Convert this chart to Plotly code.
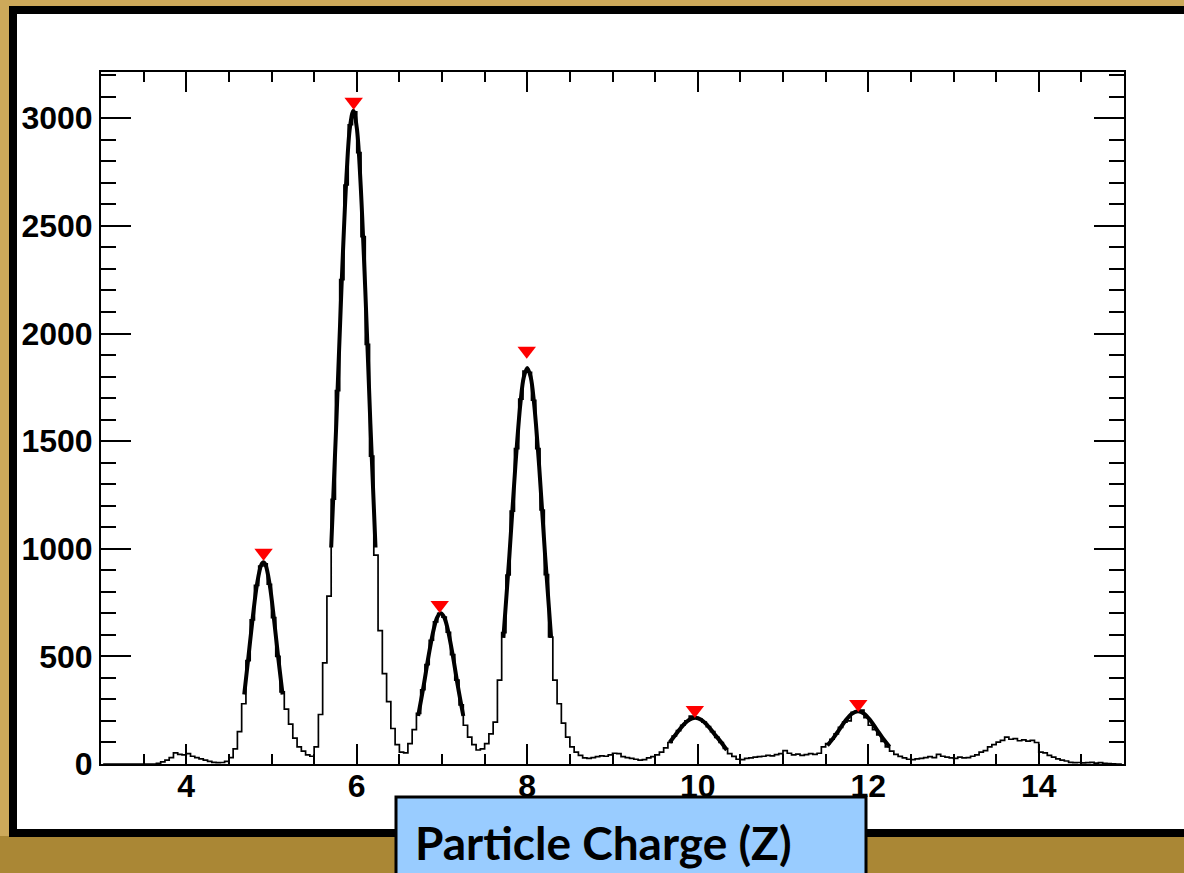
import plotly.graph_objects as go

# Histogram binning of the reconstructed charge
z_lo, z_hi, n_bins = 3.0, 15.0, 240

# Entries per bin (bin width 0.05)
counts = [
    0, 0, 0, 0, 0, 0, 0, 0, 0, 0,
    0, 0, 0, 3, 10, 18, 30, 52, 45, 42,
    48, 36, 30, 24, 18, 12, 8, 6, 7, 12,
    30, 70, 150, 280, 480, 670, 830, 920, 930, 835,
    680, 500, 335, 255, 185, 120, 80, 60, 42, 36,
    80, 230, 470, 780, 1230, 1735, 2250, 2690, 2970, 3030,
    2840, 2450, 1950, 1430, 970, 620, 420, 290, 165, 90,
    55, 52, 95, 160, 235, 345, 462, 575, 660, 700,
    682, 612, 508, 390, 275, 180, 125, 90, 65, 70,
    95, 140, 195, 390, 610, 878, 1175, 1465, 1695, 1825,
    1820, 1690, 1465, 1180, 880, 590, 390, 280, 190, 125,
    80, 55, 40, 28, 26, 30, 34, 38, 36, 42,
    50, 48, 34, 30, 26, 22, 18, 20, 28, 34,
    42, 55, 75, 100, 130, 155, 180, 200, 222, 215,
    208, 195, 174, 150, 124, 100, 72, 48, 35, 22,
    20, 26, 28, 32, 34, 36, 40, 38, 44, 48,
    62, 50, 42, 46, 40, 44, 48, 45, 50, 80,
    95, 115, 140, 170, 195, 200, 240, 245, 250, 215,
    180, 160, 135, 105, 80, 60, 45, 35, 28, 22,
    20, 24, 26, 30, 34, 30, 45, 36, 32, 28,
    26, 32, 28, 30, 36, 42, 55, 62, 80, 90,
    102, 110, 125, 115, 118, 108, 112, 106, 110, 100,
    55, 52, 40, 32, 24, 18, 14, 8, 6, 7,
    5, 6, 8, 4, 6, 3, 2, 1, 0, 0,
]

# Gaussian fits drawn over the main peaks (Z, counts)
fit_z_5 = [4.68, 4.73, 4.78, 4.83, 4.88, 4.905, 4.93, 4.98, 5.03, 5.08, 5.13]
fit_n_5 = [323, 500, 680, 835, 925, 937, 925, 830, 670, 490, 323]

fit_z_6 = [5.70, 5.76, 5.82, 5.88, 5.92, 5.96, 6.00, 6.04, 6.10, 6.16, 6.22]
fit_n_6 = [1006, 1580, 2204, 2734, 2957, 3035, 2957, 2734, 2204, 1580, 1006]

fit_z_7 = [6.72, 6.785, 6.845, 6.905, 6.945, 6.985, 7.025, 7.065, 7.125, 7.185, 7.25]
fit_n_7 = [223, 364, 508, 630, 682, 700, 682, 630, 508, 364, 223]

fit_z_8 = [7.72, 7.79, 7.86, 7.92, 7.96, 8.00, 8.04, 8.08, 8.14, 8.21, 8.28]
fit_n_8 = [586, 966, 1382, 1676, 1798, 1840, 1798, 1676, 1382, 966, 586]

fit_z_10 = [9.67, 9.75, 9.83, 9.90, 9.97, 10.04, 10.11, 10.19, 10.27, 10.34]
fit_n_10 = [100, 142, 181, 206, 215, 206, 181, 142, 103, 65]

fit_z_12 = [11.52, 11.59, 11.66, 11.73, 11.81, 11.88, 11.95, 12.03, 12.10, 12.17, 12.25]
fit_n_12 = [86, 120, 160, 200, 234, 245, 234, 200, 160, 120, 80]

# Peak-search results
peak_z = [4.907, 5.964, 6.973, 7.994, 9.966, 11.883]
peak_n = [982, 3077, 739, 1920, 251, 279]

x_title = "Particle Charge (Z)"

bin_w = (z_hi - z_lo) / n_bins
centers = [z_lo + bin_w * (i + 0.5) for i in range(n_bins)]

fig = go.Figure()

fig.add_trace(go.Scatter(
    x=centers, y=counts, mode="lines",
    line=dict(color="black", width=1.7, shape="hvh"),
    hoverinfo="skip",
))

for fz, fn in [(fit_z_5, fit_n_5), (fit_z_6, fit_n_6), (fit_z_7, fit_n_7),
               (fit_z_8, fit_n_8), (fit_z_10, fit_n_10), (fit_z_12, fit_n_12)]:
    fig.add_trace(go.Scatter(
        x=fz, y=fn, mode="lines",
        line=dict(color="black", width=4, shape="spline", smoothing=1.0),
        hoverinfo="skip",
    ))

fig.add_trace(go.Scatter(
    x=peak_z, y=peak_n, mode="markers",
    marker=dict(symbol="triangle-down", size=16, color="#FF0000",
                line=dict(width=0)),
))

# Page geometry (pixels) for the decorative frame and title box
W, H = 1184, 873
ML, MR, MT, MB = 101, 60, 72, 109
PW, PH = W - ML - MR, H - MT - MB


def fx(px):
    return (px - ML) / PW


def fy(py):
    return (H - MB - py) / PH


tick_font = dict(family="Liberation Sans, Arial, sans-serif", size=32,
                 color="black", weight="bold")

fig.update_layout(
    width=W, height=H, autosize=False,
    margin=dict(l=ML, r=MR, t=MT, b=MB, pad=0),
    paper_bgcolor="#CDA95A",
    plot_bgcolor="white",
    showlegend=False,
    xaxis=dict(
        range=[z_lo, z_hi], showgrid=False, zeroline=False,
        showline=True, linecolor="black", linewidth=2, mirror="ticks",
        ticks="inside", ticklen=20, tickwidth=2, tickcolor="black",
        tick0=0, dtick=2, tickfont=tick_font, ticklabelstandoff=-7,
        minor=dict(ticks="inside", dtick=0.5, tick0=0, ticklen=10,
                   tickwidth=2, tickcolor="black", showgrid=False),
    ),
    yaxis=dict(
        range=[0, 3215], showgrid=False, zeroline=False,
        showline=True, linecolor="black", linewidth=2, mirror="ticks",
        ticks="inside", ticklen=30, tickwidth=2, tickcolor="black",
        tick0=0, dtick=500, tickfont=tick_font,
        minor=dict(ticks="inside", dtick=100, tick0=0, ticklen=15,
                   tickwidth=2, tickcolor="black", showgrid=False),
    ),
    shapes=[
        # darker gold band along the bottom
        dict(type="rect", xref="paper", yref="paper", layer="below",
             x0=fx(-20), x1=fx(W + 20), y0=fy(H + 20), y1=fy(836),
             fillcolor="#AA8735", line=dict(width=0)),
        # white panel with heavy black border
        dict(type="rect", xref="paper", yref="paper", layer="below",
             x0=fx(13), x1=fx(W + 30), y0=fy(833), y1=fy(10),
             fillcolor="white", line=dict(color="black", width=8)),
        # axis title box
        dict(type="rect", xref="paper", yref="paper", layer="below",
             x0=fx(396), x1=fx(866), y0=fy(H + 20), y1=fy(797),
             fillcolor="#99CCFF", line=dict(color="black", width=3)),
    ],
    annotations=[
        dict(text=x_title, xref="paper", yref="paper",
             x=fx(413), y=fy(842), xanchor="left", yanchor="middle",
             showarrow=False,
             font=dict(family="Lato, sans-serif", size=46, color="black",
                       weight="bold")),
    ],
)

fig.write_html("out.html")
